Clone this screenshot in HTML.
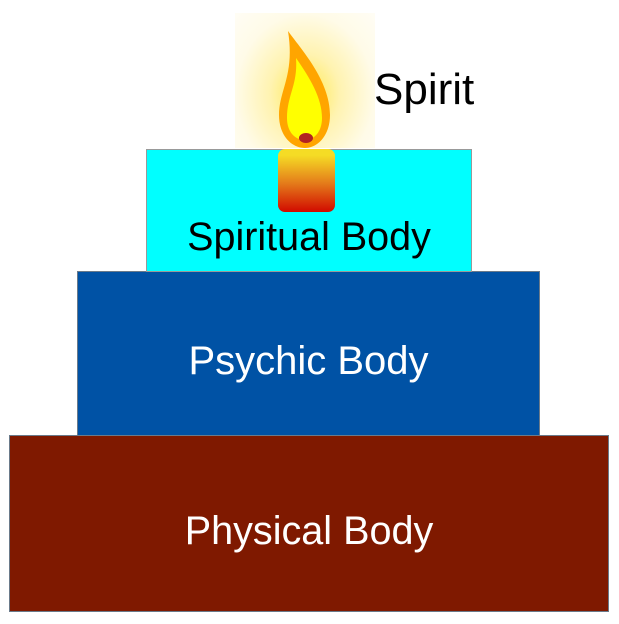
<!DOCTYPE html>
<html><head><style>
body{margin:0;width:619px;height:624px;background:#fff;position:relative;overflow:hidden;font-family:"Liberation Sans",sans-serif}
.b{position:absolute;box-sizing:border-box;border:1px solid #6a7a8a}
.t{position:absolute;width:100%;text-align:center;font-size:39.6px;line-height:1}
</style></head><body>
<div class="b" style="left:9px;top:435px;width:600px;height:177px;background:#7f1900"><div class="t" style="top:76px;color:#fff">Physical Body</div></div>
<div class="b" style="left:77px;top:271px;width:463px;height:165px;background:#0052a5"><div class="t" style="top:69px;color:#fff;font-size:40px">Psychic Body</div></div>
<div class="b" style="left:146px;top:149px;width:326px;height:123px;background:#00ffff;border-color:#999"><div class="t" style="top:68px;color:#000;font-size:39.5px">Spiritual Body</div></div>
<div style="position:absolute;left:235px;top:13px;width:140px;height:135px;background:radial-gradient(ellipse at 50% 60%,#ffe94a 0%,#fff3b0 35%,#fffbe8 70%,#fffdf5 100%)"></div>
<svg style="position:absolute;left:0;top:0" width="619" height="624">
<defs><linearGradient id="c" x1="0" y1="0" x2="0" y2="1"><stop offset="0.1" stop-color="#f5dc25"/><stop offset="0.55" stop-color="#e47a1a"/><stop offset="1" stop-color="#d10a00"/></linearGradient></defs>
<path d="M288,31 C300,48 330,80 330,115 C330,135 318,148 305,148 C292,148 279,136 279,115 C279,90 295,75 288,31Z" fill="#ffa500"/>
<path d="M296,58 C310,78 322,98 322,118 C322,132 314,140 305,140 C295,140 287,132 287,118 C287,95 298,85 296,58Z" fill="#ffff00"/>
<ellipse cx="306" cy="138" rx="7" ry="5" fill="#b22222"/>
<rect x="278" y="149" width="57" height="63" rx="7" fill="url(#c)"/>
</svg>
<div style="position:absolute;left:374px;top:68px;font-size:44px;line-height:1">Spirit</div>
</body></html>
